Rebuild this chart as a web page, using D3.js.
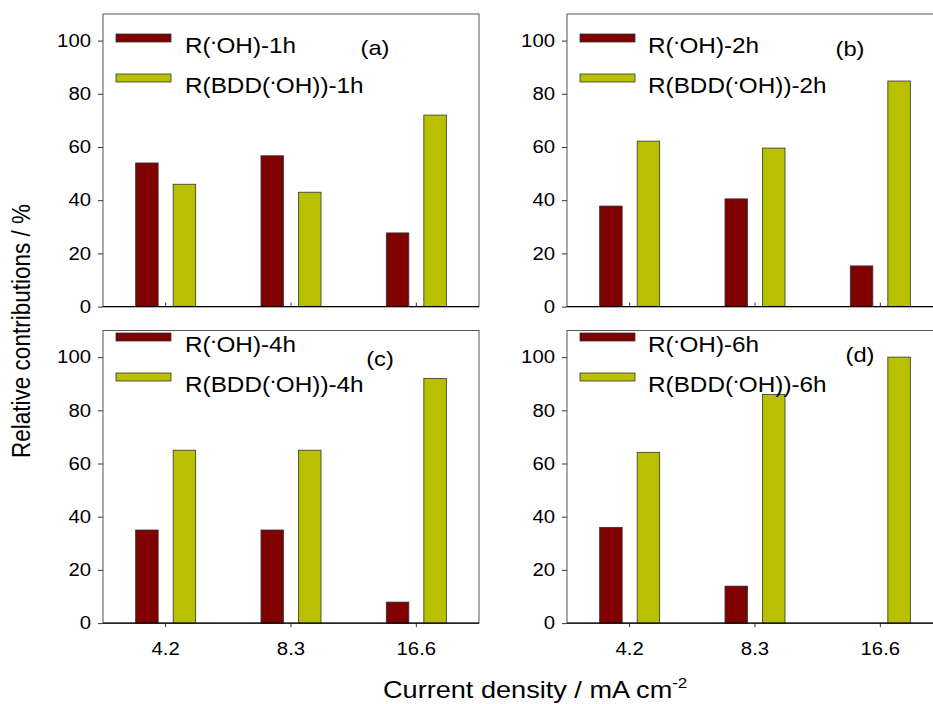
<!DOCTYPE html>
<html>
<head>
<meta charset="utf-8">
<script src="https://cdn.jsdelivr.net/npm/d3@7"></script>
<style>
  html, body { margin: 0; padding: 0; background: #fff; }
  svg { display: block; font-family: "Liberation Sans", Arial, sans-serif; }
</style>
</head>
<body>
<svg id="chart" width="933" height="704"></svg>
<script>
// ---- data ----
const categories = ["4.2", "8.3", "16.6"];
const seriesKeys = ["oh", "bdd"];
const panelLabels = ["(a)", "(b)", "(c)", "(d)"];
const hourLabels = ["1h", "2h", "4h", "6h"];
const ohValues = [
  [54, 56.7, 27.7],
  [37.8, 40.5, 15.3],
  [35, 35, 7.9],
  [36, 13.9, 0]
];
const bddValues = [
  [46, 43, 72],
  [62.2, 59.6, 84.8],
  [65, 65, 92],
  [64.2, 86, 100]
];
const yTicks = [0, 20, 40, 60, 80, 100];

// ---- style ----
const colors = { oh: "#800000", bdd: "#b9c000" };
const SX = 1.13; // horizontal stretch of the original image text
const W = 376, H = 292.6;
const panelPos = [
  { x: 103, y: 14 }, { x: 567, y: 14 },
  { x: 103, y: 330.5 }, { x: 567, y: 330.5 }
];
const labelPos = [
  { x: 375, y: 55 }, { x: 850, y: 56 },
  { x: 380, y: 366 }, { x: 860, y: 362 }
];

const svg = d3.select("#chart");

const x0 = d3.scaleBand().domain(categories).range([0, W]).padding(0);
const x1 = d3.scaleBand().domain(seriesKeys).range([0, x0.bandwidth()])
  .paddingInner(0.4).paddingOuter(0.87);
const y = d3.scaleLinear().domain([0, 110]).range([H, 0]);

function stretchedText(sel, x, yy, txt, size, anchor) {
  return sel.append("text")
    .attr("transform", `translate(${x},${yy}) scale(${SX},1)`)
    .attr("font-size", size)
    .attr("text-anchor", anchor || "start")
    .attr("fill", "#000")
    .text(txt);
}

function radicalLabel(sel, x, yy, pre, post, size) {
  const t = sel.append("text")
    .attr("transform", `translate(${x},${yy}) scale(${SX},1)`)
    .attr("font-size", size).attr("fill", "#000");
  t.append("tspan").text(pre);
  t.append("tspan").attr("dy", -4).attr("dx", -1).text("\u00B7");
  t.append("tspan").attr("dy", 4).attr("dx", -1).text(post);
  return t;
}

panelPos.forEach((p, i) => {
  const g = svg.append("g").attr("transform", `translate(${p.x},${p.y})`);
  const bottom = i >= 2;

  // frame
  g.append("rect").attr("x", 0).attr("y", 0).attr("width", W).attr("height", H)
    .attr("fill", "none").attr("stroke", "#555").attr("stroke-width", 1);

  // bars
  const rows = categories.map((c, k) => ({ cat: c, oh: ohValues[i][k], bdd: bddValues[i][k] }));
  rows.forEach(r => {
    seriesKeys.forEach(s => {
      if (r[s] <= 0) return;
      g.append("rect")
        .attr("x", x0(r.cat) + x1(s))
        .attr("y", y(r[s]))
        .attr("width", x1.bandwidth())
        .attr("height", H - y(r[s]))
        .attr("fill", colors[s])
        .attr("stroke", "#333").attr("stroke-width", 0.8);
    });
  });

  // y axis
  const ya = g.append("g").call(d3.axisLeft(y).tickValues(yTicks).tickSize(5).tickPadding(7));
  ya.select(".domain").remove();
  ya.selectAll(".tick line").attr("stroke", "#333");
  ya.selectAll(".tick text")
    .attr("font-family", "Liberation Sans, Arial, sans-serif")
    .attr("font-size", 18)
    .attr("fill", "#000")
    .attr("x", -12 / SX)
    .attr("transform", `scale(${SX},1)`);

  // x axis
  const xa = g.append("g").attr("transform", `translate(0,${H})`)
    .call(d3.axisBottom(x0).tickSize(bottom ? 4 : -4).tickPadding(15.3));
  xa.select(".domain").remove();
  xa.selectAll(".tick line").attr("stroke", "#333");
  if (bottom) {
    xa.selectAll(".tick text")
      .attr("font-family", "Liberation Sans, Arial, sans-serif")
      .attr("font-size", 18).attr("fill", "#000")
      .attr("transform", `scale(${SX},1)`);
  } else {
    xa.selectAll(".tick text").remove();
  }
  g.append("line").attr("x1", 0).attr("x2", W).attr("y1", H).attr("y2", H)
    .attr("stroke", "#000").attr("stroke-width", 1.3);

  // legend
  const lx = 13, ly1 = bottom ? 2.5 : 20, ly2 = ly1 + 40;
  g.append("rect").attr("x", lx).attr("y", ly1).attr("width", 55).attr("height", 8)
    .attr("fill", colors.oh).attr("stroke", "#333").attr("stroke-width", 0.8);
  g.append("rect").attr("x", lx).attr("y", ly2).attr("width", 55).attr("height", 8)
    .attr("fill", colors.bdd).attr("stroke", "#333").attr("stroke-width", 0.8);
  const tx = (i % 2 === 0) ? 82 : 81;
  radicalLabel(g, tx, ly1 + 18.5, "R(", "OH)-" + hourLabels[i], 21.5);
  radicalLabel(g, tx, ly2 + 18.5, "R(BDD(", "OH))-" + hourLabels[i], 21.5);
});

// panel labels
panelLabels.forEach((lab, i) => {
  stretchedText(svg, labelPos[i].x, labelPos[i].y, lab, 21, "middle");
});

// axis titles
svg.append("text")
  .attr("transform", `translate(30,331) scale(${SX},1) rotate(-90)`)
  .attr("font-size", 22.5).attr("text-anchor", "middle").attr("fill", "#000")
  .text("Relative contributions / %");

const xt = svg.append("text")
  .attr("transform", `translate(383,698) scale(${SX},1)`)
  .attr("font-size", 24).attr("fill", "#000");
xt.append("tspan").text("Current density / mA cm");
xt.append("tspan").attr("dy", -10).attr("font-size", 15).text("-2");
</script>
</body>
</html>
